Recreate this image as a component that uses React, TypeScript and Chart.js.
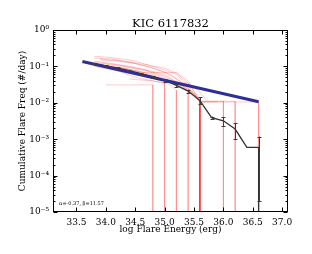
import React, { useEffect, useRef } from "react";
import { Chart, registerables } from "chart.js";

Chart.register(...registerables);

const chartTitle = "KIC 6117832";
const xAxisTitle = "log Flare Energy (erg)";
const yAxisTitle = "Cumulative Flare Freq (#/day)";
const fitLabel = "α=-0.37, β=11.57";

const xTicks = [33.5, 34.0, 34.5, 35.0, 35.5, 36.0, 36.5, 37.0];
const yTicks = [1e-5, 1e-4, 1e-3, 1e-2, 1e-1, 1];

// power-law fit line (blue)
const fitX = [33.6, 36.6];
const fitY = [0.137, 0.0107];

// observed cumulative FFD (black) with errors
const ffdX = [33.8, 34.0, 34.2, 34.4, 34.6, 34.8, 35.0, 35.2, 35.4, 35.6, 35.8, 36.0, 36.2, 36.4, 36.6, 36.6];
const ffdY = [0.12, 0.104, 0.09, 0.076, 0.063, 0.052, 0.041, 0.03, 0.021, 0.0115, 0.0039, 0.0032, 0.0019, 0.0006, 0.0006, 1e-7];
const ffdErr = [0.004, 0.004, 0.004, 0.003, 0.003, 0.003, 0.003, 0.003, 0.002, 0.0025, 0.0003, 0.0009, 0.0009, 0, 0.00058, 0];

// simulated FFDs (red)
const red1 = [[33.8, 0.19], [34.0, 0.18], [34.2, 0.165], [34.4, 0.15], [34.6, 0.125], [34.8, 0.1], [35.0, 0.08], [35.2, 0.06], [35.4, 0.03], [35.6, 0.0105], [36.6, 0.0105], [36.6, 1e-7]];
const red2 = [[33.8, 0.17], [34.1, 0.16], [34.4, 0.13], [34.7, 0.1], [35.0, 0.07], [35.2, 0.045], [35.4, 0.025], [35.6, 0.011], [36.2, 0.011], [36.2, 1e-7]];
const red3 = [[33.9, 0.15], [34.2, 0.14], [34.5, 0.12], [34.8, 0.09], [35.1, 0.06], [35.3, 0.035], [35.5, 0.018], [35.6, 0.011], [36.0, 0.011], [36.0, 1e-7]];
const red4 = [[33.8, 0.14], [34.1, 0.12], [34.4, 0.1], [34.7, 0.08], [35.0, 0.06], [35.3, 0.03], [35.6, 0.012], [35.6, 1e-7]];
const red5 = [[33.8, 0.13], [34.2, 0.11], [34.6, 0.085], [35.0, 0.055], [35.3, 0.03], [35.6, 0.013], [35.6, 1e-7]];
const red6 = [[33.9, 0.11], [34.3, 0.09], [34.6, 0.068], [35.2, 0.068], [35.4, 0.04], [35.5, 0.02], [35.6, 0.011], [35.6, 1e-7]];
const red7 = [[34.0, 0.031], [34.8, 0.031], [34.8, 1e-7]];
const red8 = [[33.8, 0.1], [34.2, 0.075], [34.5, 0.05], [34.8, 0.04], [35.0, 0.035], [35.0, 1e-7]];
const red9 = [[33.8, 0.115], [34.2, 0.095], [34.6, 0.07], [34.9, 0.05], [35.1, 0.03], [35.2, 0.022], [35.2, 1e-7]];
const red10 = [[33.8, 0.125], [34.3, 0.1], [34.7, 0.075], [35.0, 0.05], [35.3, 0.028], [35.4, 0.02], [35.4, 1e-7]];
const red11 = [[33.9, 0.16], [34.3, 0.14], [34.7, 0.11], [35.0, 0.09], [35.2, 0.065], [35.4, 0.035], [35.6, 0.012], [35.6, 1e-7]];
const red12 = [[33.8, 0.105], [34.4, 0.085], [34.8, 0.06], [35.1, 0.04], [35.4, 0.022], [35.6, 0.0105], [35.9, 0.0105]];
const red13 = [[34.4, 0.045], [34.8, 0.04], [35.0, 0.035], [35.4, 0.035], [35.6, 0.02], [35.7, 0.012]];
const redCurves = [red1, red2, red3, red4, red5, red6, red7, red8, red9, red10, red11, red12, red13];

const SUP: Record<string, string> = { "-": "⁻", "0": "⁰", "1": "¹", "2": "²", "3": "³", "4": "⁴", "5": "⁵", "6": "⁶", "7": "⁷", "8": "⁸", "9": "⁹" };
const powLabel = (v: number) => {
  const e = Math.round(Math.log10(v));
  return "10" + String(e).split("").map((c) => SUP[c] || c).join("");
};

const SERIF = "'DejaVu Serif', serif";

const decor = {
  id: "decor",
  afterDatasetsDraw(chart: any) {
    const { ctx, chartArea, scales } = chart;
    const x = scales.x, y = scales.y;
    ctx.save();
    ctx.beginPath();
    ctx.rect(chartArea.left, chartArea.top, chartArea.right - chartArea.left, chartArea.bottom - chartArea.top);
    ctx.clip();
    ctx.strokeStyle = "#3c3c3c";
    ctx.lineWidth = 1;
    ffdX.forEach((xv, i) => {
      const e = ffdErr[i];
      if (!e) return;
      const px = Math.round(x.getPixelForValue(xv)) + 0.5;
      const pyHi = y.getPixelForValue(ffdY[i] + e);
      const pyLo = y.getPixelForValue(Math.max(ffdY[i] - e, 1e-8));
      ctx.beginPath();
      ctx.moveTo(px, pyHi);
      ctx.lineTo(px, pyLo);
      ctx.moveTo(px - 2, Math.round(pyHi) + 0.5);
      ctx.lineTo(px + 2, Math.round(pyHi) + 0.5);
      ctx.moveTo(px - 2, Math.round(pyLo) + 0.5);
      ctx.lineTo(px + 2, Math.round(pyLo) + 0.5);
      ctx.stroke();
    });
    ctx.restore();
  },
  afterDraw(chart: any) {
    const { ctx, chartArea, scales } = chart;
    const x = scales.x, y = scales.y;
    const L = Math.round(chartArea.left) + 0.5;
    const R = Math.round(chartArea.right) - 0.5;
    const T = Math.round(chartArea.top) + 0.5;
    const B = Math.round(chartArea.bottom) - 0.5;
    ctx.save();
    ctx.strokeStyle = "#000";
    ctx.lineWidth = 1;
    ctx.strokeRect(L, T, R - L, B - T);
    ctx.beginPath();
    xTicks.forEach((v) => {
      const px = Math.round(x.getPixelForValue(v)) + 0.5;
      ctx.moveTo(px, B); ctx.lineTo(px, B - 4);
      ctx.moveTo(px, T); ctx.lineTo(px, T + 4);
    });
    for (let d = -5; d <= 0; d++) {
      for (let m = 1; m <= 9; m++) {
        const v = m * Math.pow(10, d);
        if (v > 1.0001) continue;
        const py = Math.round(y.getPixelForValue(v)) + 0.5;
        const len = m === 1 ? 4 : 2;
        ctx.moveTo(L, py); ctx.lineTo(L + len, py);
        ctx.moveTo(R, py); ctx.lineTo(R - len, py);
      }
    }
    ctx.stroke();
    ctx.fillStyle = "#000";
    ctx.textBaseline = "middle";
    ctx.textAlign = "center";
    ctx.font = "11.5px " + SERIF;
    ctx.fillText(chartTitle, (chartArea.left + chartArea.right) / 2, 24);
    ctx.font = "5px " + SERIF;
    ctx.textAlign = "left";
    ctx.fillText(fitLabel, chartArea.left + 6, chartArea.bottom - 8);
    ctx.restore();
  },
};

export default function App() {
  const ref = useRef<HTMLCanvasElement>(null);
  useEffect(() => {
    document.body.style.margin = "0";
    const redSets = redCurves.map((c) => ({
      data: c.map(([a, b]) => ({ x: a, y: b })),
      borderColor: "rgba(255,20,20,0.22)",
      borderWidth: 1,
      pointRadius: 0,
      tension: 0,
      order: 2,
    }));
    const chart = new Chart(ref.current!, {
      type: "line",
      data: {
        datasets: [
          {
            data: fitX.map((v, i) => ({ x: v, y: fitY[i] })),
            borderColor: "#2e2e96",
            borderWidth: 3,
            pointRadius: 0,
            order: 0,
          },
          {
            data: ffdX.map((v, i) => ({ x: v, y: ffdY[i] })),
            borderColor: "#333333",
            borderWidth: 1.3,
            pointRadius: 0,
            order: 1,
          },
          ...redSets,
        ] as any,
      },
      options: {
        animation: false,
        responsive: false,
        maintainAspectRatio: false,
        layout: { padding: { left: 0, right: 24, top: 30, bottom: 0 } },
        plugins: {
          legend: { display: false },
          tooltip: { enabled: false },
          title: { display: false },
        },
        scales: {
          x: {
            type: "linear",
            min: 33.1,
            max: 37.1,
            grid: { display: false, drawTicks: false },
            border: { display: false },
            afterBuildTicks: (s: any) => { s.ticks = xTicks.map((v) => ({ value: v })); },
            afterFit: (s: any) => { s.height = 42; },
            ticks: {
              color: "#000",
              padding: 5,
              maxRotation: 0,
              font: { family: SERIF, size: 9 },
              callback: (v: any) => Number(v).toFixed(1),
            },
            title: {
              display: true,
              text: xAxisTitle,
              color: "#000",
              font: { family: SERIF, size: 9 },
              padding: { top: 0, bottom: 19 },
            },
          },
          y: {
            type: "logarithmic",
            min: 1e-5,
            max: 1,
            grid: { display: false, drawTicks: false },
            border: { display: false },
            afterBuildTicks: (s: any) => { s.ticks = yTicks.map((v) => ({ value: v })); },
            afterFit: (s: any) => { s.width = 53; },
            ticks: {
              color: "#000",
              padding: 4,
              font: { family: SERIF, size: 9 },
              callback: (v: any) => powLabel(Number(v)),
            },
            title: {
              display: true,
              text: yAxisTitle,
              color: "#000",
              font: { family: SERIF, size: 9 },
              padding: { top: 17.6, bottom: 0 },
            },
          },
        },
      },
      plugins: [decor],
    });
    return () => chart.destroy();
  }, []);
  return (
    <div style={{ position: "absolute", left: 0, top: 0, width: 312, height: 254, background: "#fff" }}>
      <canvas ref={ref} width={312} height={254} style={{ display: "block" }} />
    </div>
  );
}
